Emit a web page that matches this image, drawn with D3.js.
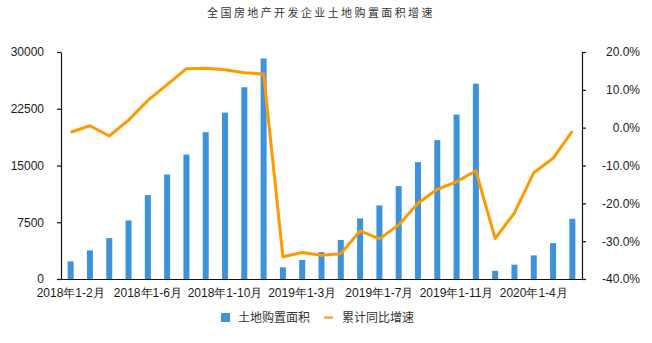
<!DOCTYPE html>
<html>
<head>
<meta charset="utf-8">
<script src="https://cdn.jsdelivr.net/npm/d3@7"></script>
<style>
  html, body { margin: 0; padding: 0; background: #fff; }
  svg { display: block; font-family: "Liberation Sans", Arial, "Noto Sans CJK SC", sans-serif; }
</style>
</head>
<body>
<svg id="chart" width="652" height="343"></svg>
<script>
// 月份（累计）
const categories = [
  "2018年1-2月","2018年1-3月","2018年1-4月","2018年1-5月","2018年1-6月","2018年1-7月",
  "2018年1-8月","2018年1-9月","2018年1-10月","2018年1-11月","2018年1-12月",
  "2019年1-2月","2019年1-3月","2019年1-4月","2019年1-5月","2019年1-6月","2019年1-7月",
  "2019年1-8月","2019年1-9月","2019年1-10月","2019年1-11月","2019年1-12月",
  "2020年1-2月","2020年1-3月","2020年1-4月","2020年1-5月","2020年1-6月"
];
// 土地购置面积（万平方米）
const landArea = [
  2330, 3780, 5410, 7740, 11090, 13810, 16450, 19400, 21990, 25340, 29140,
  1540, 2510, 3560, 5150, 8010, 9720, 12280, 15440, 18350, 21730, 25820,
  1090, 1890, 3120, 4750, 7960
];
// 累计同比增速（%）
const growth = [
  -1.2, 0.5, -2.2, 2.0, 7.2, 11.4, 15.6, 15.7, 15.3, 14.5, 14.2,
  -34.1, -33.0, -33.7, -33.3, -27.3, -29.4, -25.7, -20.0, -16.3, -14.3, -11.4,
  -29.3, -22.5, -11.9, -8.1, -0.9
];
const leftTicks = [0, 7500, 15000, 22500, 30000];
const rightTicks = [-40, -30, -20, -10, 0, 10, 20];
const xTickLabels = ["2018年1-2月","2018年1-6月","2018年1-10月","2019年1-3月","2019年1-7月","2019年1-11月","2020年1-4月"];

const title = "全国房地产开发企业土地购置面积增速";
const barName = "土地购置面积";
const lineName = "累计同比增速";

const svg = d3.select("#chart");
const plotLeft = 61, plotRight = 582, plotTop = 52, plotBottom = 279;
const textColor = "#1a1a1a";
const barColor = "#3d92dc";
const lineColor = "#ff9900";

const x = d3.scaleBand().domain(categories).range([plotLeft, plotRight]).padding(0);
const yL = d3.scaleLinear().domain([0, 30000]).range([plotBottom, plotTop]);
const yR = d3.scaleLinear().domain([-40, 20]).range([plotBottom, plotTop]);

// 标题
svg.append("text")
  .attr("x", 321).attr("y", 17)
  .attr("text-anchor", "middle")
  .attr("font-family", "'Noto Sans CJK SC', sans-serif")
  .attr("font-size", 11)
  .attr("letter-spacing", 2.4)
  .attr("fill", "#333")
  .text(title);

// 柱形：土地购置面积
const barW = 6;
svg.append("g").selectAll("rect")
  .data(landArea)
  .join("rect")
  .attr("x", (d, i) => x(categories[i]) + x.bandwidth() / 2 - barW / 2)
  .attr("y", d => yL(d))
  .attr("width", barW)
  .attr("height", d => yL(0) - yL(d))
  .attr("fill", barColor);

// 折线：累计同比增速
const line = d3.line()
  .x((d, i) => x(categories[i]) + x.bandwidth() / 2)
  .y(d => yR(d));
svg.append("path")
  .datum(growth)
  .attr("fill", "none")
  .attr("stroke", lineColor)
  .attr("stroke-width", 3)
  .attr("stroke-linejoin", "round")
  .attr("d", line);

// 坐标轴
function styleAxis(g) {
  g.selectAll("path.domain").attr("stroke", "#111").attr("stroke-width", 1.2);
  g.selectAll(".tick line").attr("stroke", "#111").attr("stroke-width", 1.2);
  g.selectAll(".tick text").attr("fill", textColor).attr("font-size", 12);
}

svg.append("g")
  .attr("transform", `translate(${plotLeft},0)`)
  .call(d3.axisLeft(yL).tickValues(leftTicks).tickSize(4).tickSizeOuter(0).tickPadding(13).tickFormat(d3.format("d")))
  .call(styleAxis);

svg.append("g")
  .attr("transform", `translate(${plotRight},0)`)
  .call(d3.axisRight(yR).tickValues(rightTicks).tickSize(4).tickSizeOuter(0).tickPadding(16).tickFormat(d => d.toFixed(1) + "%"))
  .call(styleAxis)
  .call(g => g.selectAll(".tick text").attr("text-anchor", "end").attr("dx", "38"));

svg.append("g")
  .attr("transform", `translate(0,${plotBottom})`)
  .call(d3.axisBottom(x).tickValues(xTickLabels).tickSize(0).tickSizeOuter(0).tickPadding(9))
  .call(styleAxis);

// 图例
const legend = svg.append("g").attr("font-size", 12).attr("fill", "#333")
  .attr("font-family", "'Noto Sans CJK SC', sans-serif");
legend.append("rect").attr("x", 221).attr("y", 313).attr("width", 9).attr("height", 9).attr("fill", barColor);
legend.append("text").attr("x", 238).attr("y", 322).text(barName);
legend.append("line").attr("x1", 324).attr("x2", 333).attr("y1", 317.5).attr("y2", 317.5)
  .attr("stroke", lineColor).attr("stroke-width", 2);
legend.append("text").attr("x", 342).attr("y", 322).text(lineName);
</script>
</body>
</html>
